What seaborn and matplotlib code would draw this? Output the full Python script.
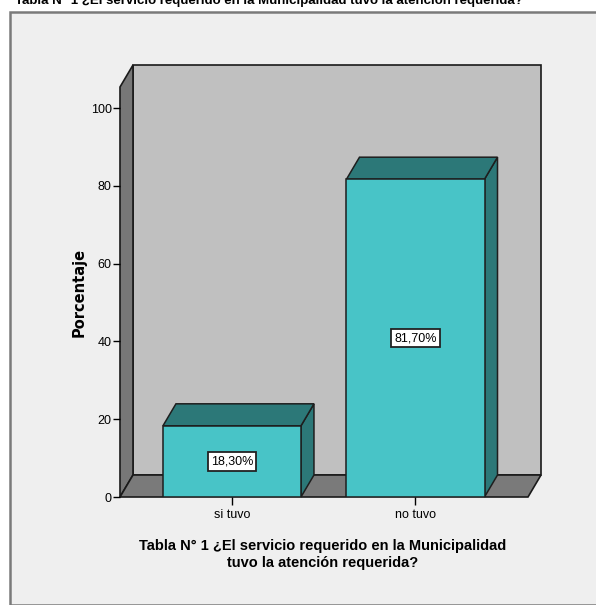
import matplotlib
matplotlib.use("Agg")
import matplotlib.pyplot as plt
from matplotlib.patches import Polygon, Rectangle
import numpy as np
import seaborn as sns

# Survey result: share of respondents (percent)
categories = ["si tuvo", "no tuvo"]
porcentaje = [18.3, 81.7]
etiquetas = ["18,30%", "81,70%"]
yticks = [0, 20, 40, 60, 80, 100]

titulo = "Tabla N° 1 ¿El servicio requerido en la Municipalidad\ntuvo la atención requerida?"
titulo_sup = "Tabla N° 1 ¿El servicio requerido en la Municipalidad tuvo la atención requerida?"

sns.set_style("white")
plt.rcParams["font.family"] = ["Liberation Sans", "DejaVu Sans"]
plt.rcParams["text.color"] = "black"
plt.rcParams["xtick.color"] = "black"
plt.rcParams["ytick.color"] = "black"

W, H = 596, 605
fig = plt.figure(figsize=(W / 100, H / 100), dpi=100, facecolor="white")

# light panel with grey border
fig.patches.append(Rectangle((10 / W, 0), 1.0, 1 - 12 / H, transform=fig.transFigure,
                             facecolor="#efefef", edgecolor="#7a7a7a", linewidth=1.8,
                             zorder=-10))

ax = fig.add_axes([120 / W, (H - 497) / H, 408 / W, 410 / H])
ax.set_facecolor("none")

FRONT = "#48c4c7"
DARK = "#2c7878"
sns.barplot(x=categories, y=porcentaje, ax=ax, color=FRONT, saturation=1,
            width=0.752, edgecolor="#1e1e1e", linewidth=1.1, zorder=3)
bars = list(ax.patches)

ax.set_xlim(-0.610, 1.613)
ax.set_ylim(0, 105.4)
ax.set_yticks(yticks)
ax.set_yticklabels([str(t) for t in yticks], fontsize=9)
ax.set_xticks(range(len(categories)))
ax.set_xticklabels(categories, fontsize=9)
ax.tick_params(axis="y", length=5, width=1, pad=1, left=True)
ax.tick_params(axis="x", length=6, width=1, pad=3, bottom=True)
for s in ax.spines.values():
    s.set_visible(False)
ax.set_xlabel("")
ax.set_ylabel("")

# depth of the 3D effect in pixels
DX, DY = 13, 22
to_fig = fig.transFigure.inverted()


def disp(x, y):
    return ax.transData.transform((x, y))


def poly(points, **kw):
    pts = to_fig.transform(np.array(points))
    p = Polygon(pts, closed=True, transform=fig.transFigure, clip_on=False, **kw)
    ax.add_artist(p)
    return p


x0, x1 = ax.get_xlim()
y0, y1 = ax.get_ylim()
bl, br, tl = disp(x0, y0), disp(x1, y0), disp(x0, y1)
tr = disp(x1, y1)
off = np.array([DX, DY])

# back wall, left wall, floor
poly([bl + off, br + off, tr + off, tl + off], facecolor="#c0c0c0",
     edgecolor="#1a1a1a", linewidth=1.2, zorder=0.2)
poly([bl, bl + off, tl + off, tl], facecolor="#777777",
     edgecolor="#1a1a1a", linewidth=1.2, zorder=0.4)
poly([bl, br, br + off, bl + off], facecolor="#7a7a7a",
     edgecolor="#1a1a1a", linewidth=1.2, zorder=0.5)

# top and side faces of each bar
for b, lab in zip(bars, etiquetas):
    bx, bw, bh = b.get_x(), b.get_width(), b.get_height()
    p_br = disp(bx + bw, 0)
    p_tl, p_tr = disp(bx, bh), disp(bx + bw, bh)
    poly([p_br, p_br + off, p_tr + off, p_tr], facecolor=DARK,
         edgecolor="#1e1e1e", linewidth=1.1, zorder=2.5)
    poly([p_tl, p_tr, p_tr + off, p_tl + off], facecolor=DARK,
         edgecolor="#1e1e1e", linewidth=1.1, zorder=2.6)
    ax.text(bx + bw / 2, bh / 2, lab, ha="center", va="center", fontsize=9,
            zorder=5,
            bbox=dict(boxstyle="square,pad=0.25", facecolor="white",
                      edgecolor="#222222", linewidth=1.3))

fig.text(79 / W, 1 - 292 / H, "Porcentaje", rotation=90, ha="center", va="center",
         fontsize=10.5, fontweight="bold", family=["DejaVu Sans"])

fig.text(323 / W, 1 - 539 / H, titulo, ha="center", va="top", fontsize=10.5,
         fontweight="bold", multialignment="center", linespacing=1.3)

fig.text(15 / W, 1 - 4 / H, titulo_sup, ha="left", va="baseline", fontsize=9.5,
         fontweight="bold")

fig.savefig("out.png", dpi=100, facecolor="white")
